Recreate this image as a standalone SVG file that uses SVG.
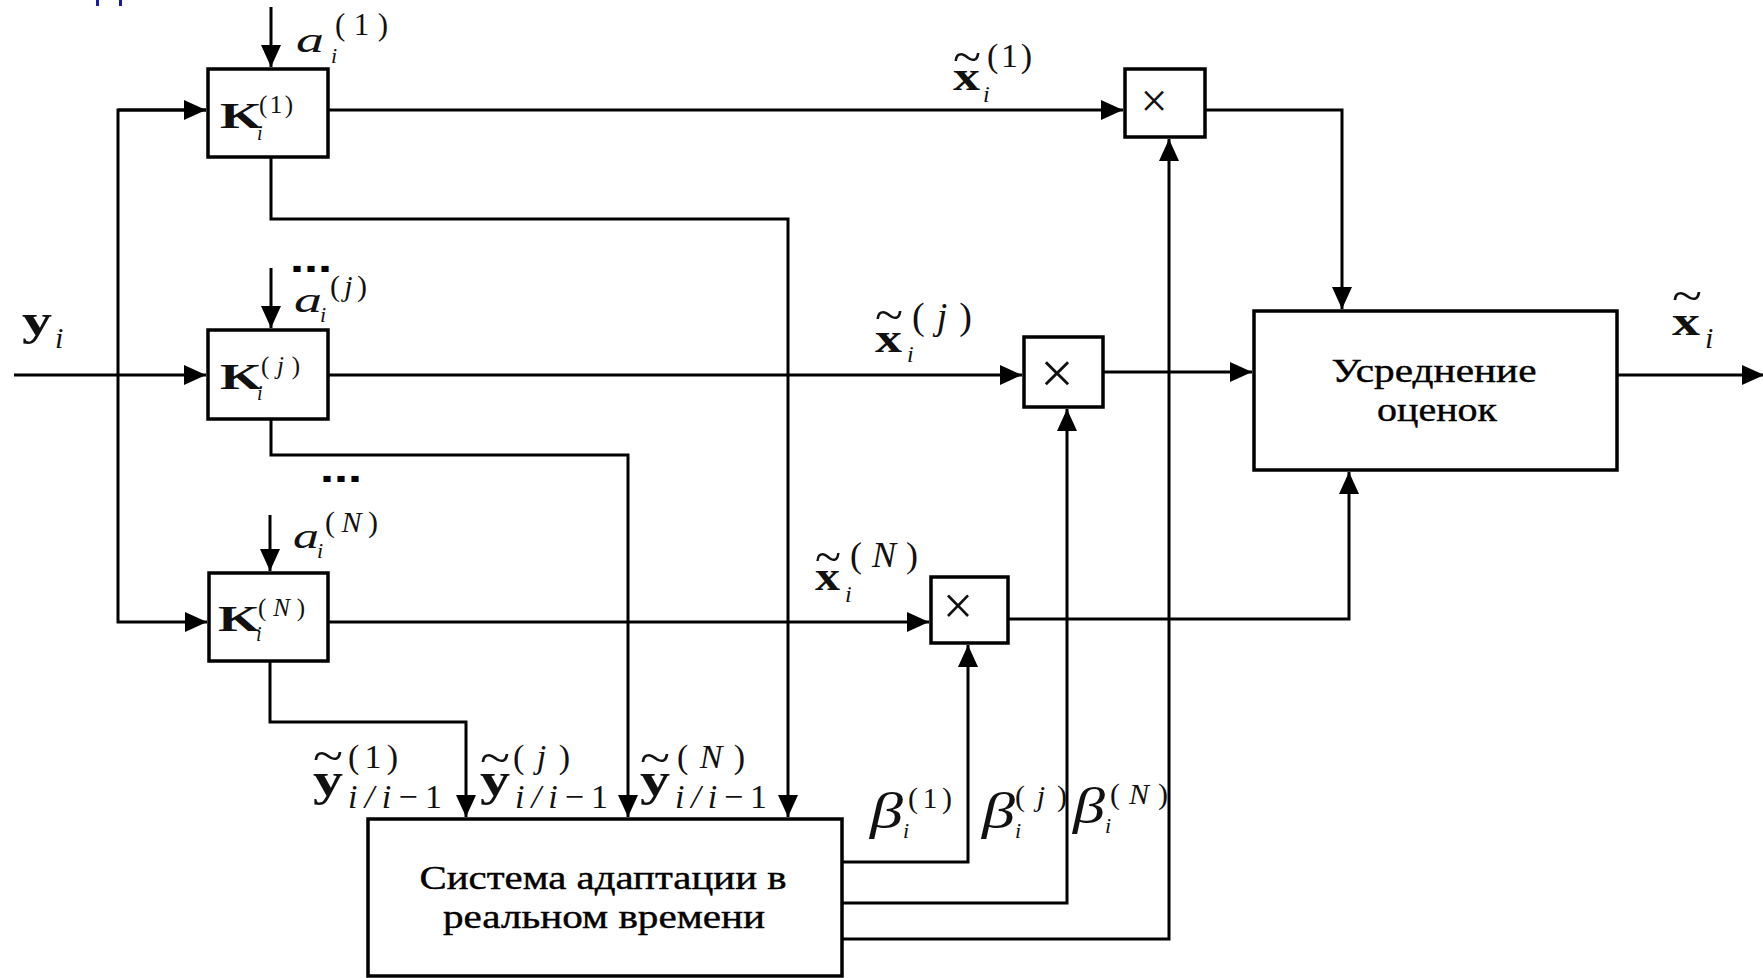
<svg xmlns="http://www.w3.org/2000/svg" width="1763" height="978" viewBox="0 0 1763 978">
<style>
.ln{stroke:#000;stroke-width:3;fill:none}
.box{fill:#fff;stroke:#000;stroke-width:3.5}
.it{font-family:"Liberation Serif",serif;font-style:italic;fill:#111}
.bf{font-family:"Liberation Serif",serif;font-weight:bold;fill:#111}
.rm{font-family:"Liberation Serif",serif;fill:#111}
.ru{font-family:"Liberation Serif",serif;font-size:33px;fill:#000;stroke:#000;stroke-width:0.4;text-anchor:middle}
.mul{font-family:"Liberation Serif",serif;fill:#111;text-anchor:middle}
.dots{font-family:"Liberation Sans",sans-serif;font-weight:bold;font-size:40px;fill:#000}
</style>
<defs>
<marker id="ah" markerUnits="userSpaceOnUse" markerWidth="22" markerHeight="20" refX="22" refY="10" orient="auto">
<path d="M0,0 L22,10 L0,20 Z" fill="#000"/>
</marker>
</defs>
<rect width="1763" height="978" fill="#fff"/>
<g id="page-fragment" fill="#1a1aa8">
<rect x="96" y="0" width="3" height="6"/>
<rect x="119" y="0" width="3" height="6"/>
</g>
<g id="connectors">
<path class="ln" d="M271,7 V67" marker-end="url(#ah)"/>
<path class="ln" d="M271,268 V328" marker-end="url(#ah)"/>
<path class="ln" d="M270,515 V571" marker-end="url(#ah)"/>
<path class="ln" d="M14,375 H206" marker-end="url(#ah)"/>
<path class="ln" d="M206,110 H118 V622 H207" marker-end="url(#ah)"/>
<path class="ln" d="M118,110 H206" marker-end="url(#ah)"/>
<path class="ln" d="M328,110 H1123" marker-end="url(#ah)"/>
<path class="ln" d="M328,375 H1022" marker-end="url(#ah)"/>
<path class="ln" d="M328,622 H929" marker-end="url(#ah)"/>
<path class="ln" d="M271,157 V219 H788 V817" marker-end="url(#ah)"/>
<path class="ln" d="M271,419 V455 H628 V817" marker-end="url(#ah)"/>
<path class="ln" d="M270,661 V722 H466 V817" marker-end="url(#ah)"/>
<path class="ln" d="M1205,110 H1342 V309" marker-end="url(#ah)"/>
<path class="ln" d="M1103,372 H1252" marker-end="url(#ah)"/>
<path class="ln" d="M1008,619 H1349 V472" marker-end="url(#ah)"/>
<path class="ln" d="M1617,375 H1764" marker-end="url(#ah)"/>
<path class="ln" d="M842,862 H968 V645" marker-end="url(#ah)"/>
<path class="ln" d="M842,903 H1067 V409" marker-end="url(#ah)"/>
<path class="ln" d="M842,939 H1169 V139" marker-end="url(#ah)"/>
</g>
<g id="K1">
<rect class="box" x="208" y="69" width="120" height="88"/>
<text class="bf" x="220" y="128" font-size="36" textLength="42" lengthAdjust="spacingAndGlyphs">K</text>
<text class="it" x="257" y="140" font-size="20">i</text>
<text class="rm" x="259" y="113" font-size="25" textLength="34" lengthAdjust="spacing">(1)</text>
</g>
<g id="Kj">
<rect class="box" x="208" y="330" width="120" height="89"/>
<text class="bf" x="220" y="389" font-size="36" textLength="42" lengthAdjust="spacingAndGlyphs">K</text>
<text class="it" x="257" y="400" font-size="20">i</text>
<text class="rm" x="261" y="374" font-size="25" textLength="39" lengthAdjust="spacing">(<tspan font-style="italic">j</tspan>)</text>
</g>
<g id="KN">
<rect class="box" x="209" y="573" width="119" height="88"/>
<text class="bf" x="218" y="631" font-size="36" textLength="42" lengthAdjust="spacingAndGlyphs">K</text>
<text class="it" x="256" y="641" font-size="20">i</text>
<text class="rm" x="258" y="616" font-size="25" textLength="47" lengthAdjust="spacing">(<tspan font-style="italic">N</tspan>)</text>
</g>
<g id="mult1">
<rect class="box" x="1125" y="69" width="80" height="68"/>
<text class="mul" x="1154" y="117" font-size="48">×</text>
</g>
<g id="multj">
<rect class="box" x="1024" y="337" width="79" height="70"/>
<text class="mul" x="1057" y="393" font-size="60">×</text>
</g>
<g id="multN">
<rect class="box" x="931" y="577" width="77" height="66"/>
<text class="mul" x="958" y="624" font-size="54">×</text>
</g>
<g id="averaging">
<rect class="box" x="1254" y="311" width="363" height="159"/>
<text class="ru" x="1434" y="382" textLength="205" lengthAdjust="spacingAndGlyphs">Усреднение</text>
<text class="ru" x="1437" y="421" textLength="120" lengthAdjust="spacingAndGlyphs">оценок</text>
</g>
<g id="adaptation">
<rect class="box" x="368" y="819" width="474" height="157"/>
<text class="ru" x="603" y="889" textLength="367" lengthAdjust="spacingAndGlyphs">Система адаптации в</text>
<text class="ru" x="604" y="928" textLength="322" lengthAdjust="spacingAndGlyphs">реальном времени</text>
</g>
<g id="labels">
<text class="it" x="296" y="52" font-size="36" textLength="28" lengthAdjust="spacingAndGlyphs">a</text>
<text class="it" x="331" y="63" font-size="22">i</text>
<text class="rm" x="335" y="35" font-size="31" textLength="53" lengthAdjust="spacing">(1)</text>

<text class="dots" x="290" y="272" textLength="42" lengthAdjust="spacingAndGlyphs">...</text>
<text class="it" x="294" y="312" font-size="36" textLength="28" lengthAdjust="spacingAndGlyphs">a</text>
<text class="it" x="320" y="322" font-size="22">i</text>
<text class="rm" x="330" y="296" font-size="30" textLength="37" lengthAdjust="spacing">(<tspan font-style="italic">j</tspan>)</text>

<text class="dots" x="320" y="482" textLength="42" lengthAdjust="spacingAndGlyphs">...</text>
<text class="it" x="293" y="548" font-size="36" textLength="26" lengthAdjust="spacingAndGlyphs">a</text>
<text class="it" x="317" y="558" font-size="22">i</text>
<text class="rm" x="325" y="532" font-size="30" textLength="53" lengthAdjust="spacing">(<tspan font-style="italic">N</tspan>)</text>

<text class="bf" x="22" y="335" font-size="44" textLength="30" lengthAdjust="spacingAndGlyphs">y</text>
<text class="it" x="55" y="348" font-size="30">i</text>

<text class="bf" x="953" y="90" font-size="40" textLength="27" lengthAdjust="spacingAndGlyphs">x</text>
<text class="rm" transform="translate(967,60) scale(1,1.6)" x="0" y="8" font-size="30" text-anchor="middle" textLength="28" lengthAdjust="spacingAndGlyphs">~</text>
<text class="it" x="983" y="102" font-size="24">i</text>
<text class="rm" x="987" y="67" font-size="34" textLength="45" lengthAdjust="spacing">(1)</text>

<text class="bf" x="875" y="352" font-size="40" textLength="27" lengthAdjust="spacingAndGlyphs">x</text>
<text class="rm" transform="translate(889,318) scale(1,1.6)" x="0" y="8" font-size="30" text-anchor="middle" textLength="28" lengthAdjust="spacingAndGlyphs">~</text>
<text class="it" x="907" y="362" font-size="24">i</text>
<text class="rm" x="912" y="329" font-size="38" textLength="60" lengthAdjust="spacing">(<tspan font-style="italic">j</tspan>)</text>

<text class="bf" x="815" y="590" font-size="40" textLength="25" lengthAdjust="spacingAndGlyphs">x</text>
<text class="rm" transform="translate(828,560) scale(1,1.6)" x="0" y="8" font-size="30" text-anchor="middle" textLength="26" lengthAdjust="spacingAndGlyphs">~</text>
<text class="it" x="845" y="602" font-size="24">i</text>
<text class="rm" x="850" y="567" font-size="36" textLength="68" lengthAdjust="spacing">(<tspan font-style="italic">N</tspan>)</text>

<text class="bf" x="1672" y="335" font-size="40" textLength="28" lengthAdjust="spacingAndGlyphs">x</text>
<text class="rm" transform="translate(1687,299) scale(1,1.6)" x="0" y="8" font-size="30" text-anchor="middle" textLength="30" lengthAdjust="spacingAndGlyphs">~</text>
<text class="it" x="1705" y="348" font-size="30">i</text>

<text class="bf" x="313" y="795" font-size="46" textLength="30" lengthAdjust="spacingAndGlyphs">y</text>
<text class="rm" transform="translate(328,759) scale(1,1.6)" x="0" y="8" font-size="30" text-anchor="middle" textLength="30" lengthAdjust="spacingAndGlyphs">~</text>
<text class="rm" x="348" y="768" font-size="34" textLength="50" lengthAdjust="spacing">(1)</text>
<text class="it" x="348" y="808" font-size="34" textLength="94" lengthAdjust="spacing">i/i<tspan font-style="normal">−1</tspan></text>

<text class="bf" x="480" y="795" font-size="46" textLength="30" lengthAdjust="spacingAndGlyphs">y</text>
<text class="rm" transform="translate(495,761) scale(1,1.6)" x="0" y="8" font-size="30" text-anchor="middle" textLength="30" lengthAdjust="spacingAndGlyphs">~</text>
<text class="rm" x="513" y="768" font-size="34" textLength="57" lengthAdjust="spacing">(<tspan font-style="italic">j</tspan>)</text>
<text class="it" x="515" y="808" font-size="34" textLength="93" lengthAdjust="spacing">i/i<tspan font-style="normal">−1</tspan></text>

<text class="bf" x="640" y="795" font-size="46" textLength="30" lengthAdjust="spacingAndGlyphs">y</text>
<text class="rm" transform="translate(655,761) scale(1,1.6)" x="0" y="8" font-size="30" text-anchor="middle" textLength="30" lengthAdjust="spacingAndGlyphs">~</text>
<text class="rm" x="677" y="768" font-size="34" textLength="68" lengthAdjust="spacing">(<tspan font-style="italic">N</tspan>)</text>
<text class="it" x="675" y="808" font-size="34" textLength="92" lengthAdjust="spacing">i/i<tspan font-style="normal">−1</tspan></text>

<text class="it" x="870" y="828" font-size="50" textLength="33" lengthAdjust="spacingAndGlyphs">β</text>
<text class="it" x="903" y="838" font-size="22">i</text>
<text class="rm" x="908" y="808" font-size="30" textLength="44" lengthAdjust="spacing">(1)</text>

<text class="it" x="982" y="828" font-size="50" textLength="33" lengthAdjust="spacingAndGlyphs">β</text>
<text class="it" x="1015" y="838" font-size="22">i</text>
<text class="rm" x="1015" y="806" font-size="30" textLength="52" lengthAdjust="spacing">(<tspan font-style="italic">j</tspan>)</text>

<text class="it" x="1073" y="823" font-size="50" textLength="32" lengthAdjust="spacingAndGlyphs">β</text>
<text class="it" x="1105" y="833" font-size="22">i</text>
<text class="rm" x="1110" y="804" font-size="30" textLength="58" lengthAdjust="spacing">(<tspan font-style="italic">N</tspan>)</text>
</g>
</svg>
